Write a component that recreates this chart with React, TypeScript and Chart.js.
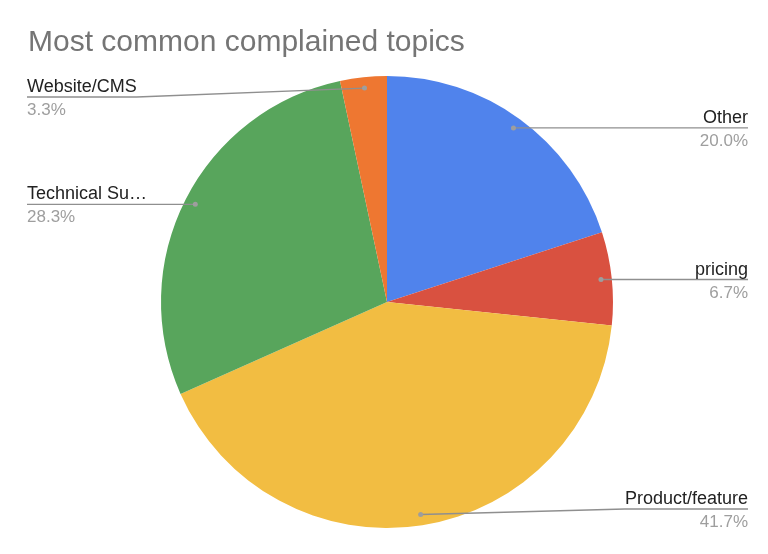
import React, { useEffect, useRef } from "react";
import { Chart, registerables } from "chart.js";

Chart.register(...registerables);

const categories = ["Other", "pricing", "Product/feature", "Technical Su…", "Website/CMS"];
const counts = [12, 4, 25, 17, 2];
const sliceColors = ["#5083EC", "#D95140", "#F2BD42", "#58A55C", "#EE7731"];
const titleText = "Most common complained topics";

const FONT = "'Liberation Sans', Arial, Helvetica, sans-serif";

const labelPlugin = {
  id: "sheetLabels",
  afterDraw(chart: any) {
    const ctx = chart.ctx as CanvasRenderingContext2D;
    const meta = chart.getDatasetMeta(0);
    const data = chart.data.datasets[0].data as number[];
    const total = data.reduce((a, b) => a + b, 0);
    ctx.save();
    // title
    ctx.font = `30px ${FONT}`;
    ctx.fillStyle = "#757575";
    ctx.textAlign = "left";
    ctx.textBaseline = "alphabetic";
    ctx.fillText(titleText, 28, 51);

    const leftX = 27;
    const rightX = 748;
    meta.data.forEach((arc: any, i: number) => {
      const p = arc.getProps(["x", "y", "startAngle", "endAngle", "outerRadius"], true);
      const mid = (p.startAngle + p.endAngle) / 2;
      const dr = p.outerRadius * 0.952;
      const dx = p.x + Math.cos(mid) * dr;
      const dy = p.y + Math.sin(mid) * dr;
      const right = Math.cos(mid) >= 0;
      const lineY = Math.min(509, Math.max(97, dy));
      const name = chart.data.labels[i] as string;
      const pct = ((data[i] / total) * 100).toFixed(1) + "%";

      ctx.font = `18px ${FONT}`;
      const w = ctx.measureText(name).width;

      ctx.strokeStyle = "#8f8f8f";
      ctx.lineWidth = 1.3;
      ctx.beginPath();
      if (right) {
        ctx.moveTo(dx, dy);
        ctx.lineTo(rightX - w, lineY);
        ctx.lineTo(rightX, lineY);
      } else {
        ctx.moveTo(dx, dy);
        ctx.lineTo(leftX + w, lineY);
        ctx.lineTo(leftX, lineY);
      }
      ctx.stroke();

      ctx.fillStyle = "#9e9e9e";
      ctx.beginPath();
      ctx.arc(dx, dy, 2.5, 0, Math.PI * 2);
      ctx.fill();

      ctx.textAlign = right ? "right" : "left";
      const tx = right ? rightX : leftX;
      ctx.fillStyle = "#222222";
      ctx.font = `18px ${FONT}`;
      ctx.fillText(name, tx, lineY - 5);
      ctx.fillStyle = "#9e9e9e";
      ctx.font = `17px ${FONT}`;
      ctx.fillText(pct, tx, lineY + 18);
    });
    ctx.restore();
  },
};

export default function App() {
  const ref = useRef<HTMLCanvasElement | null>(null);
  useEffect(() => {
    if (!ref.current) return;
    const chart = new Chart(ref.current, {
      type: "pie",
      data: {
        labels: categories,
        datasets: [
          {
            data: counts,
            backgroundColor: sliceColors,
            borderWidth: 0,
          },
        ],
      },
      options: {
        responsive: false,
        animation: false,
        devicePixelRatio: 1,
        layout: { padding: { top: 76, bottom: 26, left: 161, right: 155 } },
        plugins: {
          legend: { display: false },
          tooltip: { enabled: false },
          title: { display: false },
        },
      },
      plugins: [labelPlugin],
    });
    return () => chart.destroy();
  }, []);
  return (
    <div style={{ position: "absolute", left: 0, top: 0, width: 768, height: 554, background: "#fff" }}>
      <canvas ref={ref} width={768} height={554} />
    </div>
  );
}
